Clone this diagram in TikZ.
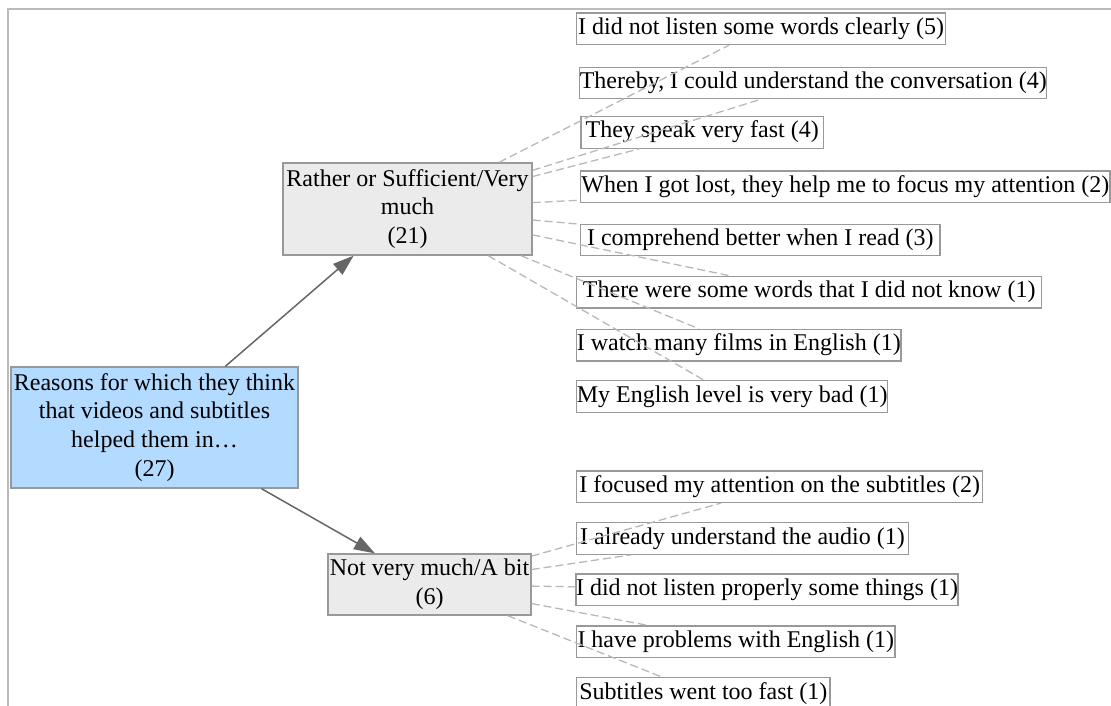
\documentclass[tikz,border=0pt]{standalone}
\usepackage{fontspec}
\setmainfont{Liberation Serif}
\usetikzlibrary{arrows.meta}

\definecolor{boxline}{HTML}{999999}
\definecolor{rootfill}{HTML}{B3DAFF}
\definecolor{midfill}{HTML}{EBEBEB}
\definecolor{linkgray}{HTML}{666666}
\definecolor{dashgray}{HTML}{B8B8B8}
\definecolor{framegray}{HTML}{BBBBBB}

\tikzset{
  box/.style={rectangle, draw=boxline, line width=1.3pt, inner sep=0pt,
    font=\fontsize{24}{28.8}\selectfont, text=black, align=center},
  leaf/.style={box, fill=white, text height=17pt, text depth=6pt,
    minimum height=31.5pt, minimum width=#1},
  mid/.style={box, fill=midfill},
  root/.style={box, fill=rootfill},
  arrowlink/.style={draw=linkgray, line width=1.5pt,
    -{Triangle[length=21pt,width=14pt]}, fill=linkgray},
  dashlink/.style={draw=dashgray, line width=1.3pt, dash pattern=on 8pt off 4pt},
}

\begin{document}
\begin{tikzpicture}[x=1pt,y=-1pt]
\useasboundingbox (0,0) rectangle (1111,706);

% frame lines
\draw[framegray, line width=2pt] (8,706) -- (8,9) -- (1111,9);

% root and second level
\node[root, minimum width=287pt, minimum height=121pt] (root) at (154.5,427.5)
  {Reasons for which they think\\that videos and subtitles\\helped them in…\\(27)};
\node[mid, minimum width=249pt, minimum height=92pt] (much) at (407.5,209)
  {Rather or Sufficient/Very\\much\\(21)};
\node[mid, minimum width=203pt, minimum height=61pt] (bit) at (429.5,584.5)
  {Not very much/A bit\\(6)};

% reasons under "Rather or Sufficient/Very much"
\node[leaf=369pt]   (u1) at (761.2,28.8)  {I did not listen some words clearly (5)};
\node[leaf=373.3pt] (u2) at (813.3,83)    {Thereby, I could understand the conversation (4)};
\node[leaf=242.3pt] (u3) at (702.2,132.5) {They speak very fast (4)};
\node[leaf=529.3pt] (u4) at (845.3,186.8) {When I got lost, they help me to focus my attention (2)};
\node[leaf=359.3pt] (u5) at (760.3,240)   {I comprehend better when I read (3)};
\node[leaf=465pt]   (u6) at (809.2,292.2) {There were some words that I did not know (1)};
\node[leaf=324.3pt] (u7) at (738.8,345.2) {I watch many films in English (1)};
\node[leaf=311pt]   (u8) at (732.2,396.5) {My English level is very bad (1)};

% reasons under "Not very much/A bit"
\node[leaf=406pt]   (l1) at (779.7,486.7) {I focused my attention on the subtitles (2)};
\node[leaf=331.6pt] (l2) at (742.5,538.5) {I already understand the audio (1)};
\node[leaf=380.6pt] (l3) at (767,589.8)   {I did not listen properly some things (1)};
\node[leaf=318.3pt] (l4) at (735.8,641.8) {I have problems with English (1)};
\node[leaf=253.3pt] (l5) at (703.3,693.5) {Subtitles went too fast (1)};

% connectors
\draw[arrowlink] (root) -- (much);
\draw[arrowlink] (root) -- (bit);

\foreach \n in {u1,u2,u3,u4,u5,u6,u7,u8}
  \draw[dashlink] (much) -- (\n);
\foreach \n in {l1,l2,l3,l4,l5}
  \draw[dashlink] (bit) -- (\n);
\end{tikzpicture}
\end{document}
